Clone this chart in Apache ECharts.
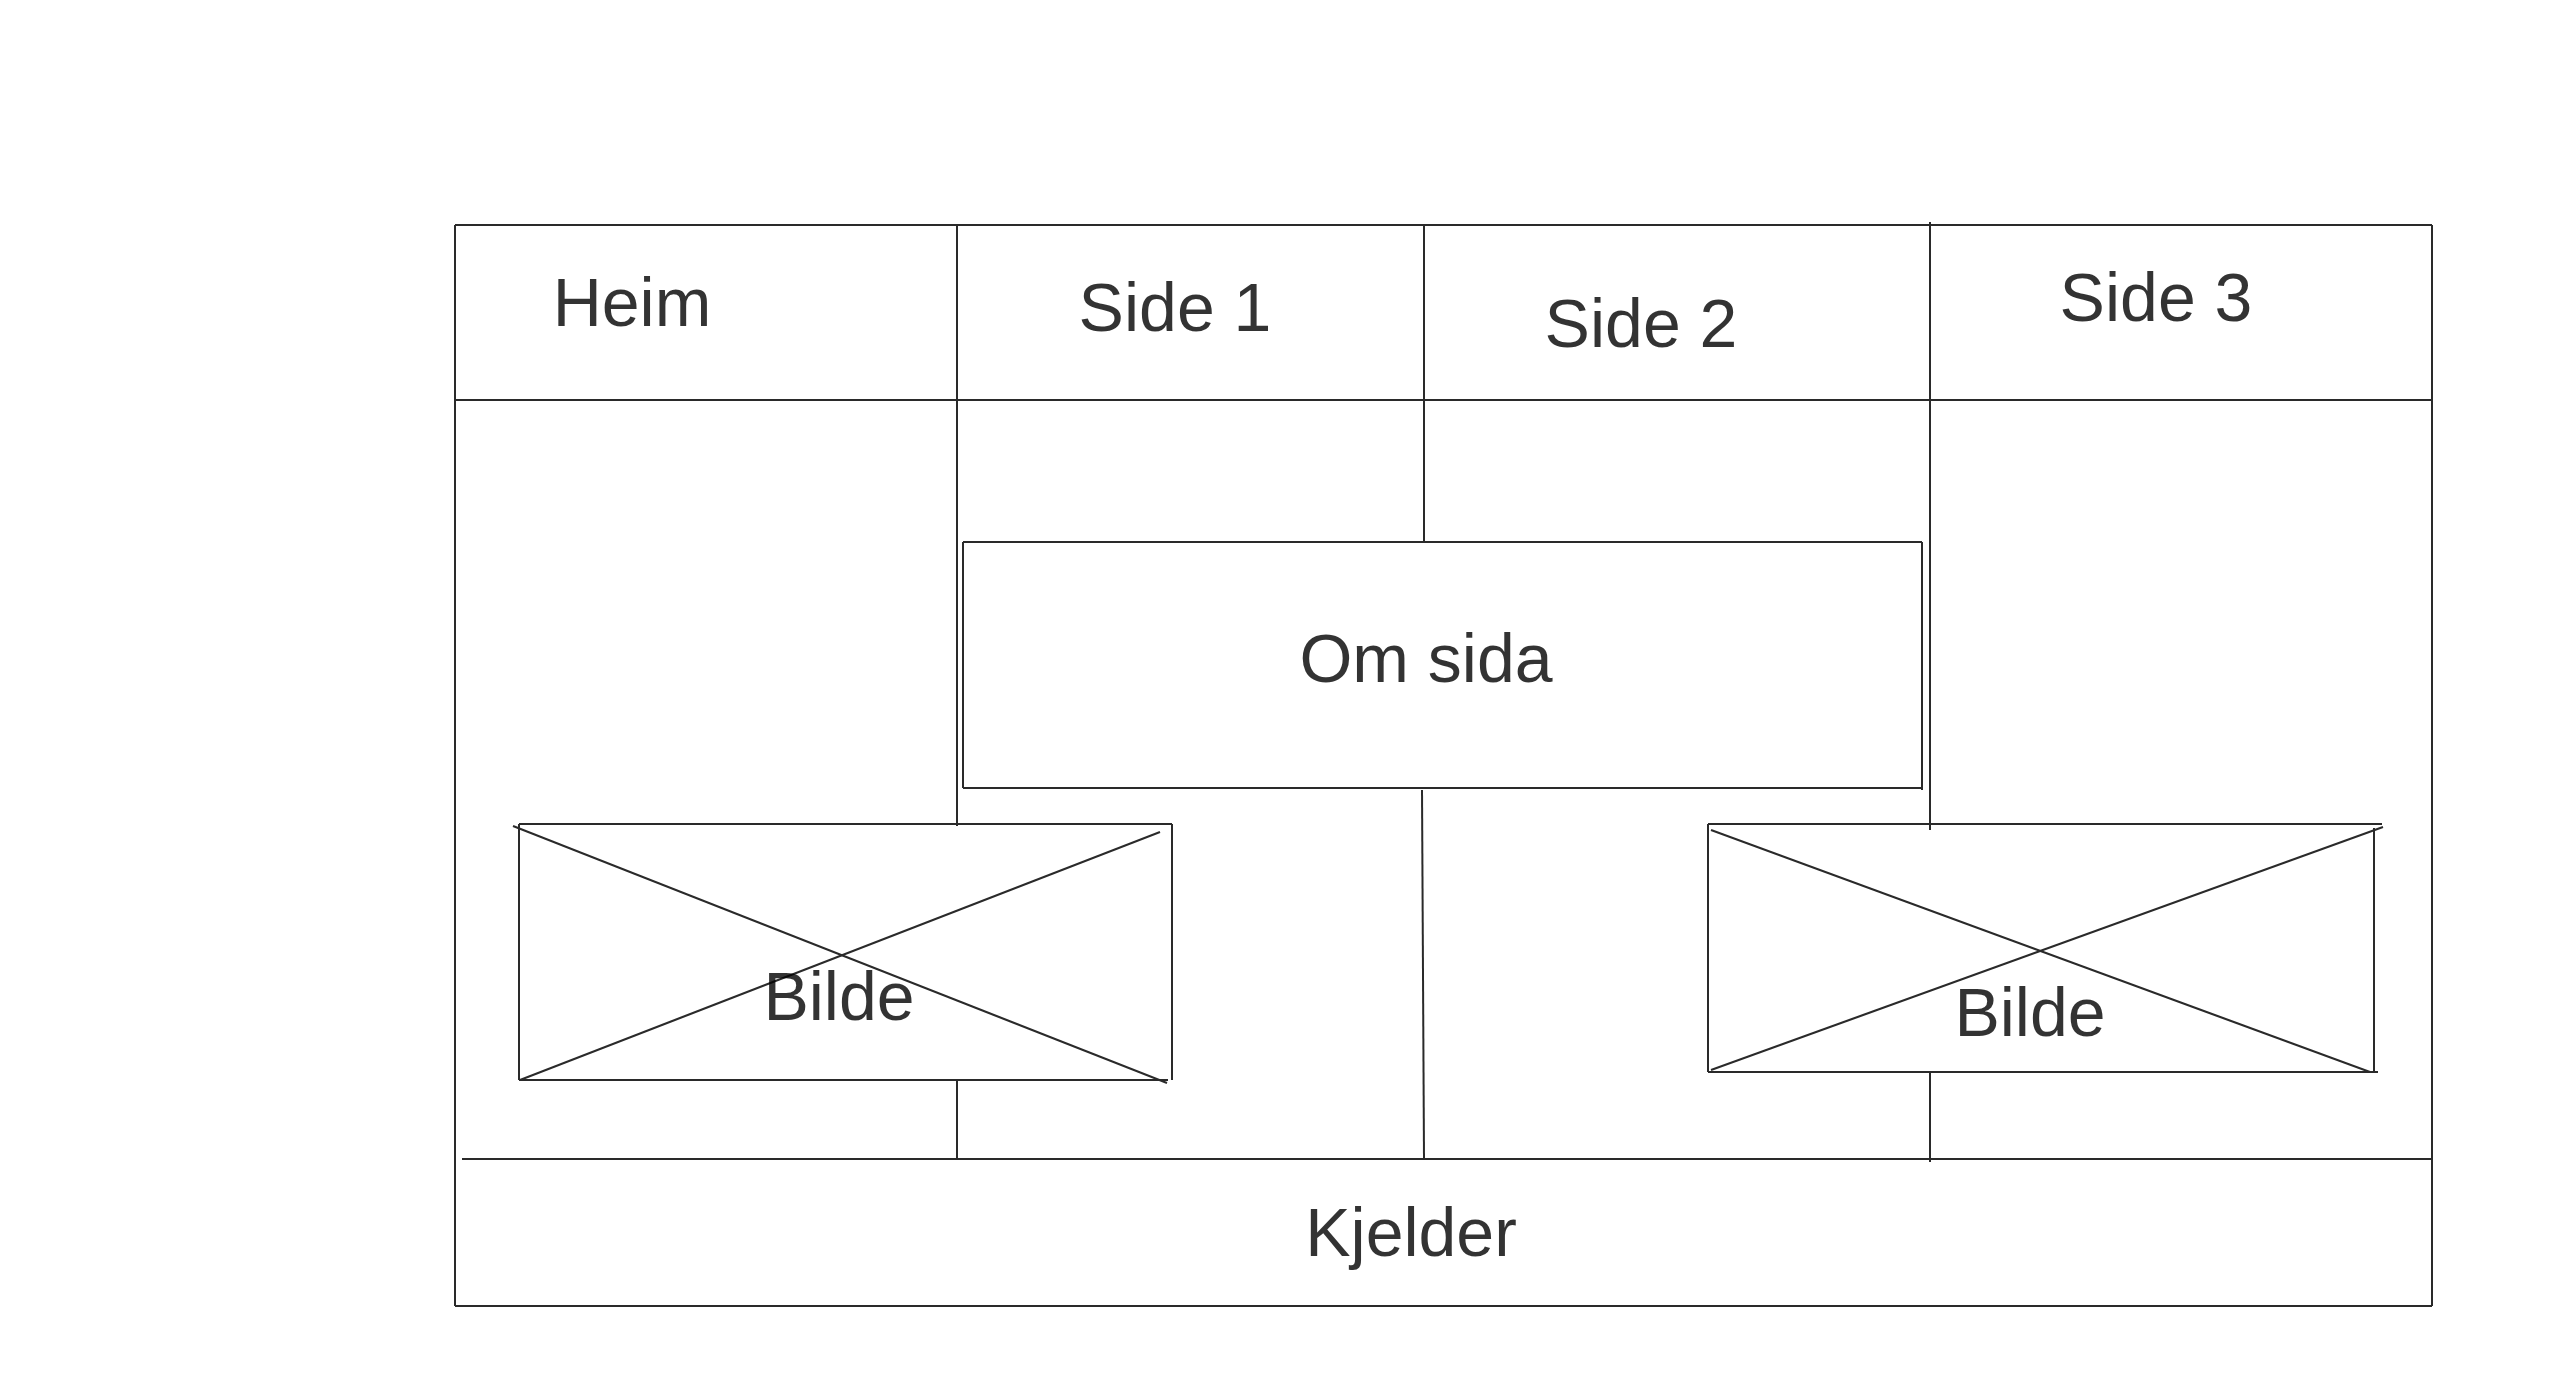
<!DOCTYPE html>
<html>
<head>
<meta charset="utf-8">
<script src="https://cdn.jsdelivr.net/npm/echarts@6/dist/echarts.min.js"></script>
<style>
  html, body { margin: 0; padding: 0; background: #fff; }
  #chart { width: 2560px; height: 1380px; }
</style>
</head>
<body>
<div id="chart"></div>
<script>
// wireframe segments, [x1, y1, x2, y2] in page units
var frameLines = [
  [455, 225, 2432, 225], [455, 1306, 2432, 1306],
  [455, 225, 455, 1306], [2432, 225, 2432, 1306],
  [455, 400, 2432, 400], [462, 1159, 2432, 1159]
];
var columnLines = [
  [957, 225, 957, 826], [957, 1080, 957, 1159],
  [1424, 225, 1424, 542], [1422, 790, 1424, 1159],
  [1930, 222, 1930, 830], [1930, 1072, 1930, 1162]
];
var boxLines = [
  [963, 542, 1922, 542], [963, 788, 1922, 788],
  [963, 542, 963, 788], [1922, 542, 1922, 790]
];
var imageLines = [
  [519, 824, 1172, 824], [519, 1080, 1168, 1080],
  [519, 824, 519, 1080], [1172, 824, 1172, 1080],
  [513, 826, 1167, 1083], [520, 1080, 1160, 832],
  [1708, 824, 2382, 824], [1708, 1072, 2378, 1072],
  [1708, 824, 1708, 1072], [2374, 828, 2374, 1072],
  [1711, 830, 2370, 1072], [1711, 1070, 2383, 827]
];
// labels: [text, x, y]
var labels = [
  ['Heim', 632, 307], ['Side 1', 1175, 312], ['Side 2', 1641, 328],
  ['Side 3', 2156, 302], ['Om sida', 1426, 663], ['Bilde', 839, 1001],
  ['Bilde', 2030, 1017], ['Kjelder', 1411, 1237]
];

var chart = echarts.init(document.getElementById('chart'));

function seg(list) {
  return list.map(function (s) { return { coords: [[s[0], s[1]], [s[2], s[3]]] }; });
}

var allLines = seg(frameLines).concat(seg(columnLines), seg(boxLines), seg(imageLines));

chart.setOption({
  animation: false,
  grid: { left: 0, right: 0, top: 0, bottom: 0 },
  xAxis: { type: 'value', min: 0, max: 2560, show: false },
  yAxis: { type: 'value', min: 0, max: 1380, inverse: true, show: false },
  series: [
    {
      type: 'lines',
      coordinateSystem: 'cartesian2d',
      polyline: false,
      silent: true,
      lineStyle: { color: '#2a2a2a', width: 2, opacity: 1 },
      data: allLines
    },
    {
      type: 'scatter',
      symbolSize: 0,
      silent: true,
      data: labels.map(function (l) { return { value: [l[1], l[2]], name: l[0] }; }),
      label: {
        show: true,
        position: 'inside',
        formatter: '{b}',
        color: '#000',
        fontSize: 68,
        fontFamily: 'Liberation Sans, Arial, sans-serif'
      }
    }
  ]
});
</script>
</body>
</html>
